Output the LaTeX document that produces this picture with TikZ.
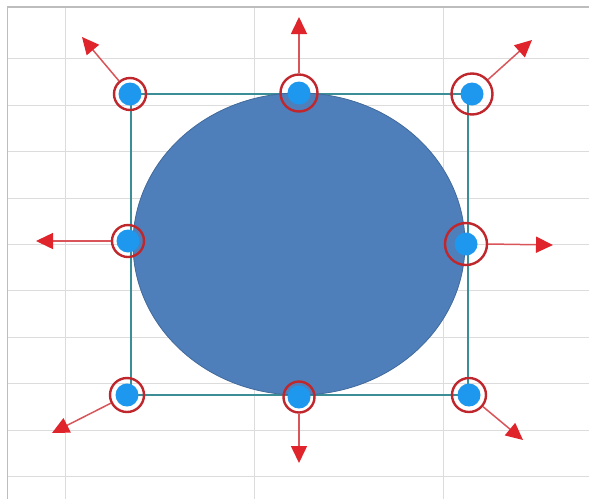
\documentclass[tikz,border=0pt]{standalone}
\usetikzlibrary{arrows.meta}
\definecolor{gridc}{HTML}{DCDCDC}
\definecolor{framec}{HTML}{BDBDBD}
\definecolor{boxc}{HTML}{3C8E96}
\definecolor{ellfill}{HTML}{4E7FBB}
\definecolor{elldraw}{HTML}{41699A}
\definecolor{dotc}{HTML}{1E98EE}
\definecolor{ringc}{HTML}{C0272D}
\definecolor{arrc}{HTML}{E0242B}
\definecolor{shaftc}{HTML}{D9555A}
\tikzset{
  handle/.style={circle,draw=ringc,line width=2.4pt,inner sep=0pt,minimum size=#1,
    path picture={\fill[dotc] (path picture bounding box.center) circle (11.5pt);}},
  handle/.default=32pt,
  pull/.style={draw=shaftc,line width=1.5pt,-{Triangle[length=17pt,width=16pt,color=arrc]}}
}
\begin{document}
\begin{tikzpicture}[x=1pt,y=-1pt]
\useasboundingbox (0,0) rectangle (589,499);
\fill[white] (0,0) rectangle (589,499);
% grid
\foreach \y in {58,105,151,198,244,290,337,383,430,476}
  \draw[gridc,line width=1pt] (7,\y) -- (589,\y);
\foreach \x in {65,254,443}
  \draw[gridc,line width=1pt] (\x,7) -- (\x,499);
\draw[framec,line width=1pt] (7,7) -- (7,499);
\draw[framec,line width=2.5pt] (7,7) -- (589,7);
% selection box
\node[draw=boxc,line width=1.2pt,minimum width=337pt,minimum height=301pt,inner sep=0pt] (box) at (299.5,244.5) {};
% ellipse
\fill[ellfill,draw=elldraw,line width=0.8pt] (299,244) ellipse [x radius=166pt,y radius=151pt];
% handles
\node[handle=32pt] (tl) at (130,94) {};
\node[handle=37pt] (tm) at (299,93) {};
\node[handle=41pt] (tr) at (472,94) {};
\node[handle=32pt] (ml) at (128,241) {};
\node[handle=42pt] (mr) at (466,244) {};
\node[handle=34pt] (bl) at (127,395) {};
\node[handle=31pt] (bm) at (299,397) {};
\node[handle=34pt] (br) at (469,395) {};
% arrow tips
\coordinate (atl) at (82,37);
\coordinate (atm) at (299,17);
\coordinate (atr) at (532,40);
\coordinate (aml) at (36,241);
\coordinate (amr) at (553,245);
\coordinate (abl) at (52,433);
\coordinate (abm) at (299,463);
\coordinate (abr) at (523,440);
\draw[pull] (tl) -- (atl);
\draw[pull] (tm) -- (atm);
\draw[pull] (tr) -- (atr);
\draw[pull] (ml) -- (aml);
\draw[pull] (mr.east) -- (amr);
\draw[pull] (bl) -- (abl);
\draw[pull] (bm) -- (abm);
\draw[pull] (br) -- (abr);
\end{tikzpicture}
\end{document}
